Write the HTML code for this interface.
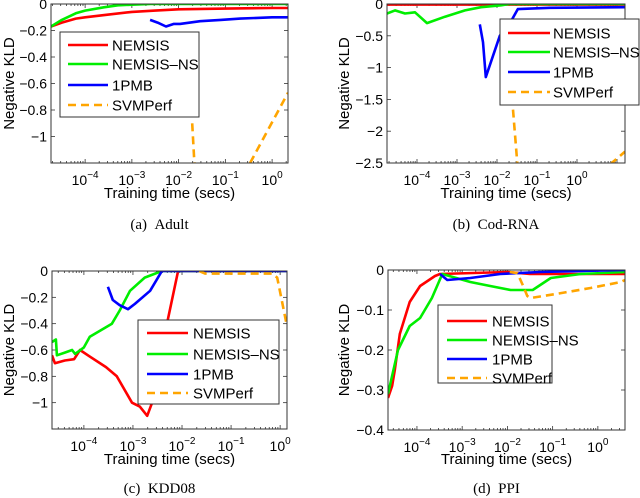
<!DOCTYPE html>
<html><head><meta charset="utf-8"><style>
body{margin:0;background:#fff;}
svg{display:block;font-family:"Liberation Sans",Arial,sans-serif;}
.cap{font-family:"Liberation Serif",serif;font-size:15px;}
</style></head><body>
<svg id="fig" width="640" height="498" viewBox="0 0 640 498"></svg>
<script>
// ---- Data (x = log10 training time in secs, y = negative KLD) ----
const seriesNames = ["NEMSIS","NEMSIS-NS","1PMB","SVMPerf"];
// (a) Adult
const aRedX=[-4.73,-4.5,-4.2,-4,-3.5,-3,-2.5,-2,-1,0,0.34];
const aRedY=[-0.17,-0.14,-0.11,-0.1,-0.08,-0.06,-0.05,-0.04,-0.035,-0.03,-0.03];
const aGreenX=[-4.73,-4.5,-4.2,-4,-3.6,-3.3,-3,-2.6,-2,0.34];
const aGreenY=[-0.17,-0.12,-0.07,-0.05,-0.025,-0.01,-0.005,0,0,0];
const aBlueX=[-2.61,-2.45,-2.27,-2.1,-1.97,-1.54,-1.1,-0.68,0,0.34];
const aBlueY=[-0.12,-0.14,-0.17,-0.15,-0.15,-0.13,-0.12,-0.11,-0.1,-0.1];
const aOrangeX=[-1.71,-1.6,null,-0.47,0.34];
const aOrangeY=[-0.9,-1.6,null,-1.2,-0.67];
// (b) Cod-RNA
const bRedX=[-4.75,-2,1.2];
const bRedY=[-0.01,-0.01,-0.01];
const bGreenX=[-4.75,-4.55,-4.3,-4.05,-3.75,-3.3,-2.8,-2.4,-1.9,-1.7,1.2];
const bGreenY=[-0.15,-0.1,-0.15,-0.13,-0.3,-0.2,-0.1,-0.05,-0.02,0,0];
const bBlueX=[-2.43,-2.35,-2.28,-1.93,-1.63,-1.48,-0.68,1.2];
const bBlueY=[-0.32,-0.6,-1.15,-0.5,-0.25,-0.08,-0.06,-0.05];
const bOrangeX=[-1.6,-1.48,null,0.83,1.2];
const bOrangeY=[-1.66,-2.6,null,-2.52,-2.32];
// (c) KDD08
const cRedX=[-4.65,-4.59,-4.39,-4.2,-4.08,-3.88,-3.55,-3.33,-3.02,-2.86,-2.71,-2.61,-2.29,-2.08,0.14];
const cRedY=[-0.64,-0.7,-0.68,-0.67,-0.6,-0.65,-0.73,-0.8,-1.0,-1.03,-1.1,-1.0,-0.37,0,0];
const cGreenX=[-4.65,-4.57,-4.55,-4.39,-4.24,-4.18,-4.0,-3.88,-3.43,-3.27,-3.06,-2.76,-2.41,0.14];
const cGreenY=[-0.54,-0.52,-0.64,-0.62,-0.6,-0.63,-0.58,-0.5,-0.4,-0.3,-0.15,-0.05,0,0];
const cBlueX=[-3.51,-3.41,-3.27,-3.1,-2.96,-2.65,-2.41,0.14];
const cBlueY=[-0.12,-0.22,-0.26,-0.29,-0.25,-0.15,0,0];
const cOrangeX=[-1.65,-1.53,-0.16,-0.06,0.14];
const cOrangeY=[0,-0.02,-0.02,-0.05,-0.42];
// (d) PPI
const dRedX=[-4.64,-4.55,-4.49,-4.38,-4.16,-3.93,-3.6,-3.49,-2,-1.5,0.6];
const dRedY=[-0.32,-0.29,-0.25,-0.16,-0.08,-0.04,-0.015,-0.01,-0.005,-0.01,-0.01];
const dGreenX=[-4.64,-4.42,-4.16,-3.93,-3.67,-3.44,-2.82,-2.38,-1.93,-1.44,-1.04,-0.38,0.6];
const dGreenY=[-0.31,-0.2,-0.14,-0.12,-0.07,-0.01,-0.03,-0.04,-0.05,-0.05,-0.02,-0.01,-0.005];
const dBlueX=[-3.49,-3.33,-2.82,-2.16,-1.27,0.6];
const dBlueY=[-0.01,-0.025,-0.02,-0.01,-0.005,0];
const dOrangeX=[-1.95,-1.78,-1.67,-1.56,-1.49,-0.93,-0.16,0.51,0.6];
const dOrangeY=[-0.005,-0.008,-0.035,-0.065,-0.07,-0.06,-0.045,-0.03,-0.025];

const panels=[
 {id:"a",cap:"(a)\u00a0\u00a0Adult",L:51,R:288,T:4,B:163,xmin:-4.73,xmax:0.34,ymin:-1.2,ymax:0,
  yt:[0,-0.2,-0.4,-0.6,-0.8,-1],ytl:["0","\u22120.2","\u22120.4","\u22120.6","\u22120.8","\u22121"],xt:[-4,-3,-2,-1,0],
  leg:{x:60,y:32,w:139,h:85,ly:[45,64,85,105],l1:68,l2:108,tx:112},xl:198,capy:229,ylx:9,
  d:[[aRedX,aRedY],[aGreenX,aGreenY],[aBlueX,aBlueY],[aOrangeX,aOrangeY]]},
 {id:"b",cap:"(b)\u00a0\u00a0Cod-RNA",L:387,R:625,T:4,B:163,xmin:-4.75,xmax:1.2,ymin:-2.5,ymax:0,
  yt:[0,-0.5,-1,-1.5,-2,-2.5],ytl:["0","\u22120.5","\u22121","\u22121.5","\u22122","\u22122.5"],xt:[-4,-3,-2,-1,0],
  leg:{x:500,y:19,w:139,h:86,ly:[33,52,72,92],l1:508,l2:550,tx:553},xl:198,capy:229,ylx:344,
  d:[[bRedX,bRedY],[bGreenX,bGreenY],[bBlueX,bBlueY],[bOrangeX,bOrangeY]]},
 {id:"c",cap:"(c)\u00a0\u00a0KDD08",L:52,R:287,T:271,B:429,xmin:-4.65,xmax:0.14,ymin:-1.2,ymax:0,
  yt:[0,-0.2,-0.4,-0.6,-0.8,-1],ytl:["0","\u22120.2","\u22120.4","\u22120.6","\u22120.8","\u22121"],xt:[-4,-3,-2,-1,0],
  leg:{x:138,y:320,w:141,h:84,ly:[333,354,374,393],l1:147,l2:188,tx:193},xl:464,capy:493,ylx:9,
  d:[[cRedX,cRedY],[cGreenX,cGreenY],[cBlueX,cBlueY],[cOrangeX,cOrangeY]]},
 {id:"d",cap:"(d)\u00a0\u00a0PPI",L:388,R:625,T:270,B:430,xmin:-4.64,xmax:0.6,ymin:-0.4,ymax:0,
  yt:[0,-0.1,-0.2,-0.3,-0.4],ytl:["0","\u22120.1","\u22120.2","\u22120.3","\u22120.4"],xt:[-4,-3,-2,-1,0],
  leg:{x:438,y:305,w:114,h:78,ly:[321,340,359,378],l1:447,l2:487,tx:492},xl:464,capy:493,ylx:344,
  d:[[dRedX,dRedY],[dGreenX,dGreenY],[dBlueX,dBlueY],[dOrangeX,dOrangeY]]}
];
const colors=["#ff0000","#00ee00","#0000ff","#ffa500"];
const NS="http://www.w3.org/2000/svg";
const svg=document.getElementById("fig");
function mk(tag,attrs,parent){const e=document.createElementNS(NS,tag);for(const k in attrs)e.setAttribute(k,attrs[k]);(parent||svg).appendChild(e);return e;}

panels.forEach(p=>{
  const sx=v=>p.L+(v-p.xmin)/(p.xmax-p.xmin)*(p.R-p.L);
  const sy=v=>p.T+(p.ymax-v)/(p.ymax-p.ymin)*(p.B-p.T);
  const g=mk("g",{});
  
  
  const cid="clip"+p.id;
  const cp=mk("clipPath",{id:cid},g);mk("rect",{x:p.L,y:p.T,width:p.R-p.L,height:p.B-p.T},cp);
  for(let e=Math.floor(p.xmin);e<=Math.ceil(p.xmax);e++){
    for(let m=1;m<10;m++){const lv=e+Math.log10(m);if(lv<p.xmin||lv>p.xmax)continue;
      const x=sx(lv),len=m===1?4:2;
      mk("line",{x1:x,x2:x,y1:p.B,y2:p.B-len,stroke:"#333","stroke-width":0.8},g);
      mk("line",{x1:x,x2:x,y1:p.T,y2:p.T+len,stroke:"#333","stroke-width":0.8},g);}
  }
  p.xt.forEach(v=>{const x=sx(v);const t=mk("text",{x:x,y:p.B+22,"font-size":14,"text-anchor":"middle"},g);
    
    
    t.innerHTML='10<tspan dy="-7" font-size="10">'+String(v).replace('-','\u2212')+'</tspan>';});
  p.yt.forEach((v,i)=>{const y=sy(v);
    mk("line",{x1:p.L,x2:p.L+4,y1:y,y2:y,stroke:"#333","stroke-width":0.8},g);
    mk("line",{x1:p.R,x2:p.R-4,y1:y,y2:y,stroke:"#333","stroke-width":0.8},g);
    const t=mk("text",{x:p.L-4,y:y+5,"font-size":14,"text-anchor":"end"},g);
    
    
    t.textContent=p.ytl[i];});
  const sg=mk("g",{"clip-path":"url(#"+cid+")"},g);
  p.d.forEach((s,si)=>{let dstr="",pen=false;
    for(let i=0;i<s[0].length;i++){if(s[0][i]===null){pen=false;continue;}
      dstr+=(pen?"L":"M")+sx(s[0][i]).toFixed(1)+","+sy(s[1][i]).toFixed(1);pen=true;}
    const path=mk("path",{d:dstr,fill:"none",stroke:colors[si],"stroke-width":2.6,"stroke-linejoin":"round"},sg);
    if(si===3)path.setAttribute("stroke-dasharray","8,5");
    
    
  });
  mk("rect",{x:p.L,y:p.T,width:p.R-p.L,height:p.B-p.T,fill:"none",stroke:"#333","stroke-width":1},g);
  const lg=mk("g",{},g);
  
  
  mk("rect",{x:p.leg.x,y:p.leg.y,width:p.leg.w,height:p.leg.h,fill:"#fff",stroke:"#333","stroke-width":1},lg);
  seriesNames.forEach((n,i)=>{const y=p.leg.ly[i];
    const ln=mk("line",{x1:p.leg.l1,x2:p.leg.l2,y1:y,y2:y,stroke:colors[i],"stroke-width":2.6},lg);
    if(i===3)ln.setAttribute("stroke-dasharray","8,5");
    const t=mk("text",{x:p.leg.tx,y:y+5.5,"font-size":15},lg);
    
    
    t.textContent=n.replace('-','\u2013');});
  const xl=mk("text",{x:(p.L+p.R)/2,y:p.xl,"font-size":15,"text-anchor":"middle"},g);
  
  
  xl.textContent="Training time (secs)";
  const yc=(p.T+p.B)/2;
  const yl=mk("text",{x:p.ylx,y:yc,"font-size":15,"text-anchor":"middle",transform:"rotate(-90 "+p.ylx+" "+yc+") translate(0,5)"},g);
  
  
  yl.textContent="Negative KLD";
  const cap=mk("text",{x:(p.L+p.R)/2-10,y:p.capy,"text-anchor":"middle","class":"cap"},g);
  
  
  cap.textContent=p.cap;
});
</script>
</body></html>
